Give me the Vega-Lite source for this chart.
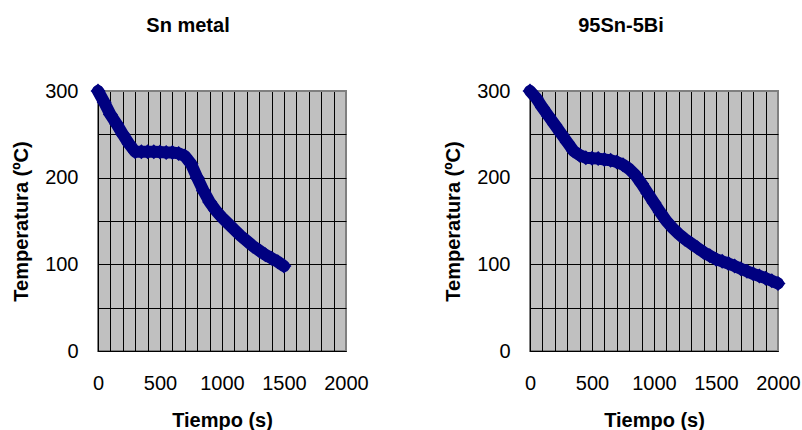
{
  "$schema": "https://vega.github.io/schema/vega-lite/v6.json",
  "autosize": {"type": "pad"},
  "padding": {"left": 10, "top": 15, "right": 5, "bottom": 2},
  "background": "white",
  "data": {"values": [
    {"s": "Sn metal", "t": 0, "T": 300}, {"s": "Sn metal", "t": 50, "T": 287}, {"s": "Sn metal", "t": 100, "T": 273}, {"s": "Sn metal", "t": 150, "T": 262}, {"s": "Sn metal", "t": 200, "T": 250}, {"s": "Sn metal", "t": 250, "T": 239}, {"s": "Sn metal", "t": 300, "T": 230}, {"s": "Sn metal", "t": 350, "T": 230}, {"s": "Sn metal", "t": 400, "T": 230}, {"s": "Sn metal", "t": 450, "T": 230}, {"s": "Sn metal", "t": 500, "T": 229.5}, {"s": "Sn metal", "t": 550, "T": 229}, {"s": "Sn metal", "t": 600, "T": 229}, {"s": "Sn metal", "t": 650, "T": 228}, {"s": "Sn metal", "t": 700, "T": 225}, {"s": "Sn metal", "t": 750, "T": 216}, {"s": "Sn metal", "t": 800, "T": 200}, {"s": "Sn metal", "t": 850, "T": 185}, {"s": "Sn metal", "t": 900, "T": 172}, {"s": "Sn metal", "t": 950, "T": 162}, {"s": "Sn metal", "t": 1000, "T": 154}, {"s": "Sn metal", "t": 1050, "T": 147}, {"s": "Sn metal", "t": 1100, "T": 140}, {"s": "Sn metal", "t": 1150, "T": 133}, {"s": "Sn metal", "t": 1200, "T": 127}, {"s": "Sn metal", "t": 1250, "T": 121}, {"s": "Sn metal", "t": 1300, "T": 116}, {"s": "Sn metal", "t": 1350, "T": 111}, {"s": "Sn metal", "t": 1400, "T": 107}, {"s": "Sn metal", "t": 1450, "T": 103}, {"s": "Sn metal", "t": 1500, "T": 98},
    {"s": "95Sn-5Bi", "t": 0, "T": 300}, {"s": "95Sn-5Bi", "t": 50, "T": 292}, {"s": "95Sn-5Bi", "t": 100, "T": 281}, {"s": "95Sn-5Bi", "t": 150, "T": 271}, {"s": "95Sn-5Bi", "t": 200, "T": 261}, {"s": "95Sn-5Bi", "t": 250, "T": 251}, {"s": "95Sn-5Bi", "t": 300, "T": 241}, {"s": "95Sn-5Bi", "t": 350, "T": 231}, {"s": "95Sn-5Bi", "t": 400, "T": 226}, {"s": "95Sn-5Bi", "t": 450, "T": 223}, {"s": "95Sn-5Bi", "t": 500, "T": 222.5}, {"s": "95Sn-5Bi", "t": 550, "T": 222}, {"s": "95Sn-5Bi", "t": 600, "T": 221}, {"s": "95Sn-5Bi", "t": 650, "T": 220}, {"s": "95Sn-5Bi", "t": 700, "T": 218}, {"s": "95Sn-5Bi", "t": 750, "T": 215}, {"s": "95Sn-5Bi", "t": 800, "T": 210}, {"s": "95Sn-5Bi", "t": 850, "T": 203}, {"s": "95Sn-5Bi", "t": 900, "T": 193}, {"s": "95Sn-5Bi", "t": 950, "T": 182}, {"s": "95Sn-5Bi", "t": 1000, "T": 171}, {"s": "95Sn-5Bi", "t": 1050, "T": 160}, {"s": "95Sn-5Bi", "t": 1100, "T": 150}, {"s": "95Sn-5Bi", "t": 1150, "T": 142}, {"s": "95Sn-5Bi", "t": 1200, "T": 135}, {"s": "95Sn-5Bi", "t": 1250, "T": 129}, {"s": "95Sn-5Bi", "t": 1300, "T": 124}, {"s": "95Sn-5Bi", "t": 1350, "T": 119}, {"s": "95Sn-5Bi", "t": 1400, "T": 114}, {"s": "95Sn-5Bi", "t": 1450, "T": 110}, {"s": "95Sn-5Bi", "t": 1500, "T": 106}, {"s": "95Sn-5Bi", "t": 1550, "T": 103.5}, {"s": "95Sn-5Bi", "t": 1600, "T": 101}, {"s": "95Sn-5Bi", "t": 1650, "T": 98}, {"s": "95Sn-5Bi", "t": 1700, "T": 95}, {"s": "95Sn-5Bi", "t": 1750, "T": 92}, {"s": "95Sn-5Bi", "t": 1800, "T": 89}, {"s": "95Sn-5Bi", "t": 1850, "T": 86.5}, {"s": "95Sn-5Bi", "t": 1900, "T": 84}, {"s": "95Sn-5Bi", "t": 1950, "T": 81}, {"s": "95Sn-5Bi", "t": 2000, "T": 78}
  ]},
  "spacing": 184,
  "bounds": "flush",
  "hconcat": [
    {
      "width": 248, "height": 260,
      "title": {"text": "Sn metal", "dx": -34, "offset": 29, "baseline": "alphabetic"},
      "transform": [{"filter": "datum.s === 'Sn metal'"}],
      "encoding": {
        "x": {"field": "t", "type": "quantitative", "scale": {"domain": [0, 2000], "nice": false}, "title": "Tiempo (s)",
          "axis": {"values": [0, 100, 200, 300, 400, 500, 600, 700, 800, 900, 1000, 1100, 1200, 1300, 1400, 1500, 1600, 1700, 1800, 1900, 2000], "format": "d", "labelOverlap": false, "labelFlush": false}},
        "y": {"field": "T", "type": "quantitative", "scale": {"domain": [0, 300], "nice": false}, "title": "Temperatura (ºC)",
          "axis": {"values": [0, 50, 100, 150, 200, 250, 300], "format": "d", "labelOverlap": false, "labelFlush": false}}
      },
      "layer": [
        {"mark": {"type": "line", "color": "#000080", "strokeWidth": 12, "strokeJoin": "round", "strokeCap": "round", "clip": false}},
        {"mark": {"type": "point", "shape": "diamond", "filled": true, "size": 225, "color": "#000080", "opacity": 1, "clip": false}}
      ]
    },
    {
      "width": 248, "height": 260,
      "title": {"text": "95Sn-5Bi", "dx": -33, "offset": 29, "baseline": "alphabetic"},
      "transform": [{"filter": "datum.s === '95Sn-5Bi'"}],
      "encoding": {
        "x": {"field": "t", "type": "quantitative", "scale": {"domain": [0, 2000], "nice": false}, "title": "Tiempo (s)",
          "axis": {"values": [0, 100, 200, 300, 400, 500, 600, 700, 800, 900, 1000, 1100, 1200, 1300, 1400, 1500, 1600, 1700, 1800, 1900, 2000], "format": "d", "labelOverlap": false, "labelFlush": false}},
        "y": {"field": "T", "type": "quantitative", "scale": {"domain": [0, 300], "nice": false}, "title": "Temperatura (ºC)",
          "axis": {"values": [0, 50, 100, 150, 200, 250, 300], "format": "d", "labelOverlap": false, "labelFlush": false}}
      },
      "layer": [
        {"mark": {"type": "line", "color": "#000080", "strokeWidth": 12, "strokeJoin": "round", "strokeCap": "round", "clip": false}},
        {"mark": {"type": "point", "shape": "diamond", "filled": true, "size": 225, "color": "#000080", "opacity": 1, "clip": false}}
      ]
    }
  ],
  "config": {
    "font": "Liberation Sans",
    "view": {"fill": "#C0C0C0", "stroke": "#808080", "strokeWidth": 2},
    "title": {"fontSize": 20, "fontWeight": "bold", "color": "black", "anchor": "middle", "font": "Liberation Sans"},
    "axis": {
      "labelFont": "Liberation Sans", "labelFontSize": 20, "labelColor": "black",
      "titleFont": "Liberation Sans", "titleFontSize": 20, "titleFontWeight": "bold", "titleColor": "black",
      "domainColor": "black", "domainWidth": 1, "tickColor": "black", "tickSize": 5, "tickWidth": 1,
      "grid": true, "gridWidth": 1, "gridOpacity": 1
    },
    "axisX": {
      "labelExpr": "datum.value % 500 === 0 ? datum.label : ''",
      "tickOpacity": {"condition": {"test": "datum.value % 500 === 0", "value": 1}, "value": 0},
      "gridColor": {"condition": {"test": "datum.value === 2000", "value": "#808080"}, "value": "black"},
      "labelPadding": 17, "titlePadding": 17
    },
    "axisY": {
      "labelExpr": "datum.value % 100 === 0 ? datum.label : ''",
      "tickOpacity": {"condition": {"test": "datum.value % 100 === 0", "value": 1}, "value": 0},
      "gridColor": {"condition": {"test": "datum.value === 300", "value": "#808080"}, "value": "black"},
      "labelPadding": 15, "titlePadding": 13
    }
  }
}
